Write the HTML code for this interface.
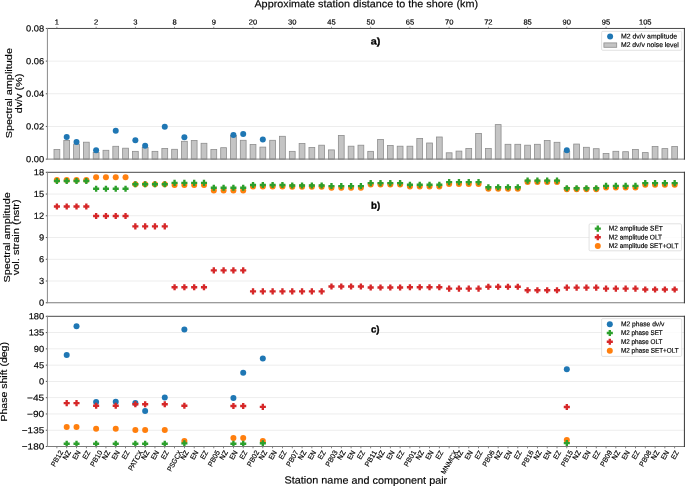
<!DOCTYPE html>
<html lang="en">
<head>
<meta charset="utf-8">
<title>M2 tidal analysis</title>
<style>
html,body{margin:0;padding:0;background:#fff;}
body{width:685px;height:486px;overflow:hidden;font-family:"Liberation Sans",sans-serif;}
svg{display:block;}
</style>
</head>
<body>
<svg width="685" height="486" viewBox="0 0 685 486" font-family='"Liberation Sans", sans-serif' fill="#000">
<rect width="685" height="486" fill="#fff"/>
<rect x="47.40" y="60.71" width="637.00" height="0.8" fill="#e9e9e9"/>
<rect x="47.40" y="93.38" width="637.00" height="0.8" fill="#e9e9e9"/>
<rect x="47.40" y="126.04" width="637.00" height="0.8" fill="#e9e9e9"/>
<rect x="54.00" y="149.40" width="5.8" height="9.70" fill="#c4c4c4" stroke="#8e8e8e" stroke-width="0.8"/>
<rect x="63.81" y="140.40" width="5.8" height="18.70" fill="#c4c4c4" stroke="#8e8e8e" stroke-width="0.8"/>
<rect x="73.61" y="144.20" width="5.8" height="14.90" fill="#c4c4c4" stroke="#8e8e8e" stroke-width="0.8"/>
<rect x="83.42" y="142.20" width="5.8" height="16.90" fill="#c4c4c4" stroke="#8e8e8e" stroke-width="0.8"/>
<rect x="93.22" y="152.40" width="5.8" height="6.70" fill="#c4c4c4" stroke="#8e8e8e" stroke-width="0.8"/>
<rect x="103.03" y="150.30" width="5.8" height="8.80" fill="#c4c4c4" stroke="#8e8e8e" stroke-width="0.8"/>
<rect x="112.84" y="146.30" width="5.8" height="12.80" fill="#c4c4c4" stroke="#8e8e8e" stroke-width="0.8"/>
<rect x="122.64" y="148.20" width="5.8" height="10.90" fill="#c4c4c4" stroke="#8e8e8e" stroke-width="0.8"/>
<rect x="132.45" y="151.35" width="5.8" height="7.75" fill="#c4c4c4" stroke="#8e8e8e" stroke-width="0.8"/>
<rect x="142.25" y="147.40" width="5.8" height="11.70" fill="#c4c4c4" stroke="#8e8e8e" stroke-width="0.8"/>
<rect x="152.06" y="151.35" width="5.8" height="7.75" fill="#c4c4c4" stroke="#8e8e8e" stroke-width="0.8"/>
<rect x="161.87" y="148.40" width="5.8" height="10.70" fill="#c4c4c4" stroke="#8e8e8e" stroke-width="0.8"/>
<rect x="171.67" y="149.30" width="5.8" height="9.80" fill="#c4c4c4" stroke="#8e8e8e" stroke-width="0.8"/>
<rect x="181.48" y="141.30" width="5.8" height="17.80" fill="#c4c4c4" stroke="#8e8e8e" stroke-width="0.8"/>
<rect x="191.28" y="140.40" width="5.8" height="18.70" fill="#c4c4c4" stroke="#8e8e8e" stroke-width="0.8"/>
<rect x="201.09" y="143.30" width="5.8" height="15.80" fill="#c4c4c4" stroke="#8e8e8e" stroke-width="0.8"/>
<rect x="210.90" y="149.50" width="5.8" height="9.60" fill="#c4c4c4" stroke="#8e8e8e" stroke-width="0.8"/>
<rect x="220.70" y="147.70" width="5.8" height="11.40" fill="#c4c4c4" stroke="#8e8e8e" stroke-width="0.8"/>
<rect x="230.51" y="135.40" width="5.8" height="23.70" fill="#c4c4c4" stroke="#8e8e8e" stroke-width="0.8"/>
<rect x="240.31" y="140.30" width="5.8" height="18.80" fill="#c4c4c4" stroke="#8e8e8e" stroke-width="0.8"/>
<rect x="250.12" y="144.50" width="5.8" height="14.60" fill="#c4c4c4" stroke="#8e8e8e" stroke-width="0.8"/>
<rect x="259.93" y="147.10" width="5.8" height="12.00" fill="#c4c4c4" stroke="#8e8e8e" stroke-width="0.8"/>
<rect x="269.73" y="140.30" width="5.8" height="18.80" fill="#c4c4c4" stroke="#8e8e8e" stroke-width="0.8"/>
<rect x="279.54" y="136.30" width="5.8" height="22.80" fill="#c4c4c4" stroke="#8e8e8e" stroke-width="0.8"/>
<rect x="289.34" y="151.35" width="5.8" height="7.75" fill="#c4c4c4" stroke="#8e8e8e" stroke-width="0.8"/>
<rect x="299.15" y="143.50" width="5.8" height="15.60" fill="#c4c4c4" stroke="#8e8e8e" stroke-width="0.8"/>
<rect x="308.96" y="147.40" width="5.8" height="11.70" fill="#c4c4c4" stroke="#8e8e8e" stroke-width="0.8"/>
<rect x="318.76" y="145.20" width="5.8" height="13.90" fill="#c4c4c4" stroke="#8e8e8e" stroke-width="0.8"/>
<rect x="328.57" y="149.90" width="5.8" height="9.20" fill="#c4c4c4" stroke="#8e8e8e" stroke-width="0.8"/>
<rect x="338.37" y="135.40" width="5.8" height="23.70" fill="#c4c4c4" stroke="#8e8e8e" stroke-width="0.8"/>
<rect x="348.18" y="146.20" width="5.8" height="12.90" fill="#c4c4c4" stroke="#8e8e8e" stroke-width="0.8"/>
<rect x="357.99" y="145.20" width="5.8" height="13.90" fill="#c4c4c4" stroke="#8e8e8e" stroke-width="0.8"/>
<rect x="367.79" y="151.35" width="5.8" height="7.75" fill="#c4c4c4" stroke="#8e8e8e" stroke-width="0.8"/>
<rect x="377.60" y="139.40" width="5.8" height="19.70" fill="#c4c4c4" stroke="#8e8e8e" stroke-width="0.8"/>
<rect x="387.40" y="145.40" width="5.8" height="13.70" fill="#c4c4c4" stroke="#8e8e8e" stroke-width="0.8"/>
<rect x="397.21" y="146.20" width="5.8" height="12.90" fill="#c4c4c4" stroke="#8e8e8e" stroke-width="0.8"/>
<rect x="407.02" y="146.20" width="5.8" height="12.90" fill="#c4c4c4" stroke="#8e8e8e" stroke-width="0.8"/>
<rect x="416.82" y="138.40" width="5.8" height="20.70" fill="#c4c4c4" stroke="#8e8e8e" stroke-width="0.8"/>
<rect x="426.63" y="143.00" width="5.8" height="16.10" fill="#c4c4c4" stroke="#8e8e8e" stroke-width="0.8"/>
<rect x="436.43" y="137.00" width="5.8" height="22.10" fill="#c4c4c4" stroke="#8e8e8e" stroke-width="0.8"/>
<rect x="446.24" y="152.80" width="5.8" height="6.30" fill="#c4c4c4" stroke="#8e8e8e" stroke-width="0.8"/>
<rect x="456.05" y="151.10" width="5.8" height="8.00" fill="#c4c4c4" stroke="#8e8e8e" stroke-width="0.8"/>
<rect x="465.85" y="148.40" width="5.8" height="10.70" fill="#c4c4c4" stroke="#8e8e8e" stroke-width="0.8"/>
<rect x="475.66" y="133.40" width="5.8" height="25.70" fill="#c4c4c4" stroke="#8e8e8e" stroke-width="0.8"/>
<rect x="485.46" y="148.40" width="5.8" height="10.70" fill="#c4c4c4" stroke="#8e8e8e" stroke-width="0.8"/>
<rect x="495.27" y="124.60" width="5.8" height="34.50" fill="#c4c4c4" stroke="#8e8e8e" stroke-width="0.8"/>
<rect x="505.08" y="144.30" width="5.8" height="14.80" fill="#c4c4c4" stroke="#8e8e8e" stroke-width="0.8"/>
<rect x="514.88" y="144.30" width="5.8" height="14.80" fill="#c4c4c4" stroke="#8e8e8e" stroke-width="0.8"/>
<rect x="524.69" y="145.20" width="5.8" height="13.90" fill="#c4c4c4" stroke="#8e8e8e" stroke-width="0.8"/>
<rect x="534.49" y="144.30" width="5.8" height="14.80" fill="#c4c4c4" stroke="#8e8e8e" stroke-width="0.8"/>
<rect x="544.30" y="140.50" width="5.8" height="18.60" fill="#c4c4c4" stroke="#8e8e8e" stroke-width="0.8"/>
<rect x="554.11" y="142.30" width="5.8" height="16.80" fill="#c4c4c4" stroke="#8e8e8e" stroke-width="0.8"/>
<rect x="563.91" y="151.50" width="5.8" height="7.60" fill="#c4c4c4" stroke="#8e8e8e" stroke-width="0.8"/>
<rect x="573.72" y="144.05" width="5.8" height="15.05" fill="#c4c4c4" stroke="#8e8e8e" stroke-width="0.8"/>
<rect x="583.52" y="147.30" width="5.8" height="11.80" fill="#c4c4c4" stroke="#8e8e8e" stroke-width="0.8"/>
<rect x="593.33" y="148.70" width="5.8" height="10.40" fill="#c4c4c4" stroke="#8e8e8e" stroke-width="0.8"/>
<rect x="603.14" y="153.50" width="5.8" height="5.60" fill="#c4c4c4" stroke="#8e8e8e" stroke-width="0.8"/>
<rect x="612.94" y="151.30" width="5.8" height="7.80" fill="#c4c4c4" stroke="#8e8e8e" stroke-width="0.8"/>
<rect x="622.75" y="151.70" width="5.8" height="7.40" fill="#c4c4c4" stroke="#8e8e8e" stroke-width="0.8"/>
<rect x="632.55" y="149.40" width="5.8" height="9.70" fill="#c4c4c4" stroke="#8e8e8e" stroke-width="0.8"/>
<rect x="642.36" y="152.60" width="5.8" height="6.50" fill="#c4c4c4" stroke="#8e8e8e" stroke-width="0.8"/>
<rect x="652.17" y="146.50" width="5.8" height="12.60" fill="#c4c4c4" stroke="#8e8e8e" stroke-width="0.8"/>
<rect x="661.97" y="148.60" width="5.8" height="10.50" fill="#c4c4c4" stroke="#8e8e8e" stroke-width="0.8"/>
<rect x="671.78" y="146.50" width="5.8" height="12.60" fill="#c4c4c4" stroke="#8e8e8e" stroke-width="0.8"/>
<circle cx="66.71" cy="136.90" r="3.0" fill="#1f77b4"/>
<circle cx="76.51" cy="142.10" r="3.0" fill="#1f77b4"/>
<circle cx="96.12" cy="150.20" r="3.0" fill="#1f77b4"/>
<circle cx="115.74" cy="130.85" r="3.0" fill="#1f77b4"/>
<circle cx="135.35" cy="140.20" r="3.0" fill="#1f77b4"/>
<circle cx="145.15" cy="145.65" r="3.0" fill="#1f77b4"/>
<circle cx="164.77" cy="126.70" r="3.0" fill="#1f77b4"/>
<circle cx="184.38" cy="137.30" r="3.0" fill="#1f77b4"/>
<circle cx="233.41" cy="135.00" r="3.0" fill="#1f77b4"/>
<circle cx="243.21" cy="134.00" r="3.0" fill="#1f77b4"/>
<circle cx="262.83" cy="139.50" r="3.0" fill="#1f77b4"/>
<circle cx="566.81" cy="150.30" r="3.0" fill="#1f77b4"/>
<rect x="46.90" y="27.95" width="638.00" height="1.0" fill="#4a4a4a"/>
<rect x="46.90" y="158.60" width="638.00" height="1.0" fill="#7c7c7c"/>
<rect x="46.90" y="27.95" width="1.0" height="131.65" fill="#8a8a8a"/>
<rect x="683.90" y="27.95" width="1.0" height="131.65" fill="#333333"/>
<rect x="45.80" y="27.95" width="1.20" height="1.0" fill="#555"/>
<rect x="45.80" y="60.61" width="1.20" height="1.0" fill="#555"/>
<rect x="45.80" y="93.28" width="1.20" height="1.0" fill="#555"/>
<rect x="45.80" y="125.94" width="1.20" height="1.0" fill="#555"/>
<rect x="45.80" y="158.60" width="1.20" height="1.0" fill="#555"/>
<rect x="56.50" y="26.75" width="0.8" height="1.30" fill="#777"/>
<rect x="95.72" y="26.75" width="0.8" height="1.30" fill="#777"/>
<rect x="134.95" y="26.75" width="0.8" height="1.30" fill="#777"/>
<rect x="174.17" y="26.75" width="0.8" height="1.30" fill="#777"/>
<rect x="213.40" y="26.75" width="0.8" height="1.30" fill="#777"/>
<rect x="252.62" y="26.75" width="0.8" height="1.30" fill="#777"/>
<rect x="291.84" y="26.75" width="0.8" height="1.30" fill="#777"/>
<rect x="331.07" y="26.75" width="0.8" height="1.30" fill="#777"/>
<rect x="370.29" y="26.75" width="0.8" height="1.30" fill="#777"/>
<rect x="409.52" y="26.75" width="0.8" height="1.30" fill="#777"/>
<rect x="448.74" y="26.75" width="0.8" height="1.30" fill="#777"/>
<rect x="487.96" y="26.75" width="0.8" height="1.30" fill="#777"/>
<rect x="527.19" y="26.75" width="0.8" height="1.30" fill="#777"/>
<rect x="566.41" y="26.75" width="0.8" height="1.30" fill="#777"/>
<rect x="605.64" y="26.75" width="0.8" height="1.30" fill="#777"/>
<rect x="644.86" y="26.75" width="0.8" height="1.30" fill="#777"/>
<rect x="601.6" y="31.3" width="80.10" height="19.00" rx="1.2" ry="1.2" fill="#ffffff" fill-opacity="0.8" stroke="#d6d6d6" stroke-width="0.7"/>
<circle cx="610.10" cy="36.60" r="3.0" fill="#1f77b4"/>
<rect x="603.9" y="42.9" width="12.8" height="4.4" fill="#c4c4c4" stroke="#8e8e8e" stroke-width="0.8"/>
<rect x="47.40" y="193.64" width="637.00" height="0.8" fill="#e9e9e9"/>
<rect x="47.40" y="215.38" width="637.00" height="0.8" fill="#e9e9e9"/>
<rect x="47.40" y="237.12" width="637.00" height="0.8" fill="#e9e9e9"/>
<rect x="47.40" y="258.87" width="637.00" height="0.8" fill="#e9e9e9"/>
<rect x="47.40" y="280.61" width="637.00" height="0.8" fill="#e9e9e9"/>
<circle cx="56.90" cy="179.90" r="3.0" fill="#ff7f0e"/>
<circle cx="66.71" cy="179.90" r="3.0" fill="#ff7f0e"/>
<circle cx="76.51" cy="179.90" r="3.0" fill="#ff7f0e"/>
<circle cx="86.32" cy="179.90" r="3.0" fill="#ff7f0e"/>
<circle cx="96.12" cy="177.30" r="3.0" fill="#ff7f0e"/>
<circle cx="105.93" cy="177.30" r="3.0" fill="#ff7f0e"/>
<circle cx="115.74" cy="177.30" r="3.0" fill="#ff7f0e"/>
<circle cx="125.54" cy="177.30" r="3.0" fill="#ff7f0e"/>
<circle cx="135.35" cy="184.20" r="3.0" fill="#ff7f0e"/>
<circle cx="145.15" cy="184.20" r="3.0" fill="#ff7f0e"/>
<circle cx="154.96" cy="184.20" r="3.0" fill="#ff7f0e"/>
<circle cx="164.77" cy="184.20" r="3.0" fill="#ff7f0e"/>
<circle cx="174.57" cy="185.00" r="3.0" fill="#ff7f0e"/>
<circle cx="184.38" cy="185.00" r="3.0" fill="#ff7f0e"/>
<circle cx="194.18" cy="185.00" r="3.0" fill="#ff7f0e"/>
<circle cx="203.99" cy="185.00" r="3.0" fill="#ff7f0e"/>
<circle cx="213.80" cy="190.40" r="3.0" fill="#ff7f0e"/>
<circle cx="223.60" cy="190.40" r="3.0" fill="#ff7f0e"/>
<circle cx="233.41" cy="190.40" r="3.0" fill="#ff7f0e"/>
<circle cx="243.21" cy="190.40" r="3.0" fill="#ff7f0e"/>
<circle cx="253.02" cy="186.50" r="3.0" fill="#ff7f0e"/>
<circle cx="262.83" cy="186.50" r="3.0" fill="#ff7f0e"/>
<circle cx="272.63" cy="186.50" r="3.0" fill="#ff7f0e"/>
<circle cx="282.44" cy="186.50" r="3.0" fill="#ff7f0e"/>
<circle cx="292.24" cy="186.80" r="3.0" fill="#ff7f0e"/>
<circle cx="302.05" cy="186.80" r="3.0" fill="#ff7f0e"/>
<circle cx="311.86" cy="186.80" r="3.0" fill="#ff7f0e"/>
<circle cx="321.66" cy="186.80" r="3.0" fill="#ff7f0e"/>
<circle cx="331.47" cy="187.80" r="3.0" fill="#ff7f0e"/>
<circle cx="341.27" cy="187.80" r="3.0" fill="#ff7f0e"/>
<circle cx="351.08" cy="187.80" r="3.0" fill="#ff7f0e"/>
<circle cx="360.89" cy="187.80" r="3.0" fill="#ff7f0e"/>
<circle cx="370.69" cy="184.60" r="3.0" fill="#ff7f0e"/>
<circle cx="380.50" cy="184.60" r="3.0" fill="#ff7f0e"/>
<circle cx="390.30" cy="184.60" r="3.0" fill="#ff7f0e"/>
<circle cx="400.11" cy="184.60" r="3.0" fill="#ff7f0e"/>
<circle cx="409.92" cy="186.40" r="3.0" fill="#ff7f0e"/>
<circle cx="419.72" cy="186.40" r="3.0" fill="#ff7f0e"/>
<circle cx="429.53" cy="186.40" r="3.0" fill="#ff7f0e"/>
<circle cx="439.33" cy="186.40" r="3.0" fill="#ff7f0e"/>
<circle cx="449.14" cy="183.90" r="3.0" fill="#ff7f0e"/>
<circle cx="458.95" cy="183.90" r="3.0" fill="#ff7f0e"/>
<circle cx="468.75" cy="183.90" r="3.0" fill="#ff7f0e"/>
<circle cx="478.56" cy="183.90" r="3.0" fill="#ff7f0e"/>
<circle cx="488.36" cy="188.70" r="3.0" fill="#ff7f0e"/>
<circle cx="498.17" cy="188.70" r="3.0" fill="#ff7f0e"/>
<circle cx="507.98" cy="188.70" r="3.0" fill="#ff7f0e"/>
<circle cx="517.78" cy="188.70" r="3.0" fill="#ff7f0e"/>
<circle cx="527.59" cy="182.00" r="3.0" fill="#ff7f0e"/>
<circle cx="537.39" cy="182.00" r="3.0" fill="#ff7f0e"/>
<circle cx="547.20" cy="182.00" r="3.0" fill="#ff7f0e"/>
<circle cx="557.01" cy="182.00" r="3.0" fill="#ff7f0e"/>
<circle cx="566.81" cy="189.30" r="3.0" fill="#ff7f0e"/>
<circle cx="576.62" cy="189.30" r="3.0" fill="#ff7f0e"/>
<circle cx="586.42" cy="189.30" r="3.0" fill="#ff7f0e"/>
<circle cx="596.23" cy="189.30" r="3.0" fill="#ff7f0e"/>
<circle cx="606.04" cy="187.40" r="3.0" fill="#ff7f0e"/>
<circle cx="615.84" cy="187.40" r="3.0" fill="#ff7f0e"/>
<circle cx="625.65" cy="187.40" r="3.0" fill="#ff7f0e"/>
<circle cx="635.45" cy="187.40" r="3.0" fill="#ff7f0e"/>
<circle cx="645.26" cy="184.70" r="3.0" fill="#ff7f0e"/>
<circle cx="655.07" cy="184.70" r="3.0" fill="#ff7f0e"/>
<circle cx="664.87" cy="184.70" r="3.0" fill="#ff7f0e"/>
<circle cx="674.68" cy="184.70" r="3.0" fill="#ff7f0e"/>
<polygon points="55.73,177.95 58.07,177.95 58.07,179.82 59.95,179.82 59.95,182.18 58.07,182.18 58.07,184.05 55.73,184.05 55.73,182.18 53.85,182.18 53.85,179.82 55.73,179.82" fill="#2ca02c"/>
<polygon points="55.73,203.45 58.07,203.45 58.07,205.32 59.95,205.32 59.95,207.68 58.07,207.68 58.07,209.55 55.73,209.55 55.73,207.68 53.85,207.68 53.85,205.32 55.73,205.32" fill="#d62728"/>
<polygon points="65.53,177.95 67.88,177.95 67.88,179.82 69.76,179.82 69.76,182.18 67.88,182.18 67.88,184.05 65.53,184.05 65.53,182.18 63.66,182.18 63.66,179.82 65.53,179.82" fill="#2ca02c"/>
<polygon points="65.53,203.45 67.88,203.45 67.88,205.32 69.76,205.32 69.76,207.68 67.88,207.68 67.88,209.55 65.53,209.55 65.53,207.68 63.66,207.68 63.66,205.32 65.53,205.32" fill="#d62728"/>
<polygon points="75.34,177.95 77.69,177.95 77.69,179.82 79.56,179.82 79.56,182.18 77.69,182.18 77.69,184.05 75.34,184.05 75.34,182.18 73.46,182.18 73.46,179.82 75.34,179.82" fill="#2ca02c"/>
<polygon points="75.34,203.45 77.69,203.45 77.69,205.32 79.56,205.32 79.56,207.68 77.69,207.68 77.69,209.55 75.34,209.55 75.34,207.68 73.46,207.68 73.46,205.32 75.34,205.32" fill="#d62728"/>
<polygon points="85.14,177.95 87.49,177.95 87.49,179.82 89.37,179.82 89.37,182.18 87.49,182.18 87.49,184.05 85.14,184.05 85.14,182.18 83.27,182.18 83.27,179.82 85.14,179.82" fill="#2ca02c"/>
<polygon points="85.14,203.45 87.49,203.45 87.49,205.32 89.37,205.32 89.37,207.68 87.49,207.68 87.49,209.55 85.14,209.55 85.14,207.68 83.27,207.68 83.27,205.32 85.14,205.32" fill="#d62728"/>
<polygon points="94.95,185.65 97.30,185.65 97.30,187.52 99.17,187.52 99.17,189.88 97.30,189.88 97.30,191.75 94.95,191.75 94.95,189.88 93.07,189.88 93.07,187.52 94.95,187.52" fill="#2ca02c"/>
<polygon points="94.95,212.95 97.30,212.95 97.30,214.82 99.17,214.82 99.17,217.18 97.30,217.18 97.30,219.05 94.95,219.05 94.95,217.18 93.07,217.18 93.07,214.82 94.95,214.82" fill="#d62728"/>
<polygon points="104.75,185.65 107.10,185.65 107.10,187.52 108.98,187.52 108.98,189.88 107.10,189.88 107.10,191.75 104.75,191.75 104.75,189.88 102.88,189.88 102.88,187.52 104.75,187.52" fill="#2ca02c"/>
<polygon points="104.75,212.95 107.10,212.95 107.10,214.82 108.98,214.82 108.98,217.18 107.10,217.18 107.10,219.05 104.75,219.05 104.75,217.18 102.88,217.18 102.88,214.82 104.75,214.82" fill="#d62728"/>
<polygon points="114.56,185.65 116.91,185.65 116.91,187.52 118.79,187.52 118.79,189.88 116.91,189.88 116.91,191.75 114.56,191.75 114.56,189.88 112.69,189.88 112.69,187.52 114.56,187.52" fill="#2ca02c"/>
<polygon points="114.56,212.95 116.91,212.95 116.91,214.82 118.79,214.82 118.79,217.18 116.91,217.18 116.91,219.05 114.56,219.05 114.56,217.18 112.69,217.18 112.69,214.82 114.56,214.82" fill="#d62728"/>
<polygon points="124.37,185.65 126.72,185.65 126.72,187.52 128.59,187.52 128.59,189.88 126.72,189.88 126.72,191.75 124.37,191.75 124.37,189.88 122.49,189.88 122.49,187.52 124.37,187.52" fill="#2ca02c"/>
<polygon points="124.37,212.95 126.72,212.95 126.72,214.82 128.59,214.82 128.59,217.18 126.72,217.18 126.72,219.05 124.37,219.05 124.37,217.18 122.49,217.18 122.49,214.82 124.37,214.82" fill="#d62728"/>
<polygon points="134.17,181.15 136.52,181.15 136.52,183.02 138.40,183.02 138.40,185.38 136.52,185.38 136.52,187.25 134.17,187.25 134.17,185.38 132.30,185.38 132.30,183.02 134.17,183.02" fill="#2ca02c"/>
<polygon points="134.17,223.35 136.52,223.35 136.52,225.22 138.40,225.22 138.40,227.58 136.52,227.58 136.52,229.45 134.17,229.45 134.17,227.58 132.30,227.58 132.30,225.22 134.17,225.22" fill="#d62728"/>
<polygon points="143.98,181.15 146.33,181.15 146.33,183.02 148.20,183.02 148.20,185.38 146.33,185.38 146.33,187.25 143.98,187.25 143.98,185.38 142.10,185.38 142.10,183.02 143.98,183.02" fill="#2ca02c"/>
<polygon points="143.98,223.35 146.33,223.35 146.33,225.22 148.20,225.22 148.20,227.58 146.33,227.58 146.33,229.45 143.98,229.45 143.98,227.58 142.10,227.58 142.10,225.22 143.98,225.22" fill="#d62728"/>
<polygon points="153.78,181.15 156.13,181.15 156.13,183.02 158.01,183.02 158.01,185.38 156.13,185.38 156.13,187.25 153.78,187.25 153.78,185.38 151.91,185.38 151.91,183.02 153.78,183.02" fill="#2ca02c"/>
<polygon points="153.78,223.35 156.13,223.35 156.13,225.22 158.01,225.22 158.01,227.58 156.13,227.58 156.13,229.45 153.78,229.45 153.78,227.58 151.91,227.58 151.91,225.22 153.78,225.22" fill="#d62728"/>
<polygon points="163.59,181.15 165.94,181.15 165.94,183.02 167.82,183.02 167.82,185.38 165.94,185.38 165.94,187.25 163.59,187.25 163.59,185.38 161.72,185.38 161.72,183.02 163.59,183.02" fill="#2ca02c"/>
<polygon points="163.59,223.35 165.94,223.35 165.94,225.22 167.82,225.22 167.82,227.58 165.94,227.58 165.94,229.45 163.59,229.45 163.59,227.58 161.72,227.58 161.72,225.22 163.59,225.22" fill="#d62728"/>
<polygon points="173.40,179.80 175.75,179.80 175.75,181.67 177.62,181.67 177.62,184.03 175.75,184.03 175.75,185.90 173.40,185.90 173.40,184.03 171.52,184.03 171.52,181.67 173.40,181.67" fill="#2ca02c"/>
<polygon points="173.40,284.25 175.75,284.25 175.75,286.12 177.62,286.12 177.62,288.48 175.75,288.48 175.75,290.35 173.40,290.35 173.40,288.48 171.52,288.48 171.52,286.12 173.40,286.12" fill="#d62728"/>
<polygon points="183.20,179.80 185.55,179.80 185.55,181.67 187.43,181.67 187.43,184.03 185.55,184.03 185.55,185.90 183.20,185.90 183.20,184.03 181.33,184.03 181.33,181.67 183.20,181.67" fill="#2ca02c"/>
<polygon points="183.20,284.25 185.55,284.25 185.55,286.12 187.43,286.12 187.43,288.48 185.55,288.48 185.55,290.35 183.20,290.35 183.20,288.48 181.33,288.48 181.33,286.12 183.20,286.12" fill="#d62728"/>
<polygon points="193.01,179.80 195.36,179.80 195.36,181.67 197.23,181.67 197.23,184.03 195.36,184.03 195.36,185.90 193.01,185.90 193.01,184.03 191.13,184.03 191.13,181.67 193.01,181.67" fill="#2ca02c"/>
<polygon points="193.01,284.25 195.36,284.25 195.36,286.12 197.23,286.12 197.23,288.48 195.36,288.48 195.36,290.35 193.01,290.35 193.01,288.48 191.13,288.48 191.13,286.12 193.01,286.12" fill="#d62728"/>
<polygon points="202.81,179.80 205.16,179.80 205.16,181.67 207.04,181.67 207.04,184.03 205.16,184.03 205.16,185.90 202.81,185.90 202.81,184.03 200.94,184.03 200.94,181.67 202.81,181.67" fill="#2ca02c"/>
<polygon points="202.81,284.25 205.16,284.25 205.16,286.12 207.04,286.12 207.04,288.48 205.16,288.48 205.16,290.35 202.81,290.35 202.81,288.48 200.94,288.48 200.94,286.12 202.81,286.12" fill="#d62728"/>
<polygon points="212.62,184.75 214.97,184.75 214.97,186.62 216.85,186.62 216.85,188.98 214.97,188.98 214.97,190.85 212.62,190.85 212.62,188.98 210.75,188.98 210.75,186.62 212.62,186.62" fill="#2ca02c"/>
<polygon points="212.62,267.35 214.97,267.35 214.97,269.22 216.85,269.22 216.85,271.57 214.97,271.57 214.97,273.45 212.62,273.45 212.62,271.57 210.75,271.57 210.75,269.22 212.62,269.22" fill="#d62728"/>
<polygon points="222.43,184.75 224.78,184.75 224.78,186.62 226.65,186.62 226.65,188.98 224.78,188.98 224.78,190.85 222.43,190.85 222.43,188.98 220.55,188.98 220.55,186.62 222.43,186.62" fill="#2ca02c"/>
<polygon points="222.43,267.35 224.78,267.35 224.78,269.22 226.65,269.22 226.65,271.57 224.78,271.57 224.78,273.45 222.43,273.45 222.43,271.57 220.55,271.57 220.55,269.22 222.43,269.22" fill="#d62728"/>
<polygon points="232.23,184.75 234.58,184.75 234.58,186.62 236.46,186.62 236.46,188.98 234.58,188.98 234.58,190.85 232.23,190.85 232.23,188.98 230.36,188.98 230.36,186.62 232.23,186.62" fill="#2ca02c"/>
<polygon points="232.23,267.35 234.58,267.35 234.58,269.22 236.46,269.22 236.46,271.57 234.58,271.57 234.58,273.45 232.23,273.45 232.23,271.57 230.36,271.57 230.36,269.22 232.23,269.22" fill="#d62728"/>
<polygon points="242.04,184.75 244.39,184.75 244.39,186.62 246.26,186.62 246.26,188.98 244.39,188.98 244.39,190.85 242.04,190.85 242.04,188.98 240.16,188.98 240.16,186.62 242.04,186.62" fill="#2ca02c"/>
<polygon points="242.04,267.35 244.39,267.35 244.39,269.22 246.26,269.22 246.26,271.57 244.39,271.57 244.39,273.45 242.04,273.45 242.04,271.57 240.16,271.57 240.16,269.22 242.04,269.22" fill="#d62728"/>
<polygon points="251.84,181.95 254.19,181.95 254.19,183.82 256.07,183.82 256.07,186.18 254.19,186.18 254.19,188.05 251.84,188.05 251.84,186.18 249.97,186.18 249.97,183.82 251.84,183.82" fill="#2ca02c"/>
<polygon points="251.84,288.35 254.19,288.35 254.19,290.22 256.07,290.22 256.07,292.57 254.19,292.57 254.19,294.45 251.84,294.45 251.84,292.57 249.97,292.57 249.97,290.22 251.84,290.22" fill="#d62728"/>
<polygon points="261.65,181.95 264.00,181.95 264.00,183.82 265.88,183.82 265.88,186.18 264.00,186.18 264.00,188.05 261.65,188.05 261.65,186.18 259.78,186.18 259.78,183.82 261.65,183.82" fill="#2ca02c"/>
<polygon points="261.65,288.35 264.00,288.35 264.00,290.22 265.88,290.22 265.88,292.57 264.00,292.57 264.00,294.45 261.65,294.45 261.65,292.57 259.78,292.57 259.78,290.22 261.65,290.22" fill="#d62728"/>
<polygon points="271.46,181.95 273.81,181.95 273.81,183.82 275.68,183.82 275.68,186.18 273.81,186.18 273.81,188.05 271.46,188.05 271.46,186.18 269.58,186.18 269.58,183.82 271.46,183.82" fill="#2ca02c"/>
<polygon points="271.46,288.35 273.81,288.35 273.81,290.22 275.68,290.22 275.68,292.57 273.81,292.57 273.81,294.45 271.46,294.45 271.46,292.57 269.58,292.57 269.58,290.22 271.46,290.22" fill="#d62728"/>
<polygon points="281.26,181.95 283.61,181.95 283.61,183.82 285.49,183.82 285.49,186.18 283.61,186.18 283.61,188.05 281.26,188.05 281.26,186.18 279.39,186.18 279.39,183.82 281.26,183.82" fill="#2ca02c"/>
<polygon points="281.26,288.35 283.61,288.35 283.61,290.22 285.49,290.22 285.49,292.57 283.61,292.57 283.61,294.45 281.26,294.45 281.26,292.57 279.39,292.57 279.39,290.22 281.26,290.22" fill="#d62728"/>
<polygon points="291.07,182.45 293.42,182.45 293.42,184.32 295.29,184.32 295.29,186.68 293.42,186.68 293.42,188.55 291.07,188.55 291.07,186.68 289.19,186.68 289.19,184.32 291.07,184.32" fill="#2ca02c"/>
<polygon points="291.07,288.35 293.42,288.35 293.42,290.22 295.29,290.22 295.29,292.57 293.42,292.57 293.42,294.45 291.07,294.45 291.07,292.57 289.19,292.57 289.19,290.22 291.07,290.22" fill="#d62728"/>
<polygon points="300.87,182.45 303.22,182.45 303.22,184.32 305.10,184.32 305.10,186.68 303.22,186.68 303.22,188.55 300.87,188.55 300.87,186.68 299.00,186.68 299.00,184.32 300.87,184.32" fill="#2ca02c"/>
<polygon points="300.87,288.35 303.22,288.35 303.22,290.22 305.10,290.22 305.10,292.57 303.22,292.57 303.22,294.45 300.87,294.45 300.87,292.57 299.00,292.57 299.00,290.22 300.87,290.22" fill="#d62728"/>
<polygon points="310.68,182.45 313.03,182.45 313.03,184.32 314.91,184.32 314.91,186.68 313.03,186.68 313.03,188.55 310.68,188.55 310.68,186.68 308.81,186.68 308.81,184.32 310.68,184.32" fill="#2ca02c"/>
<polygon points="310.68,288.35 313.03,288.35 313.03,290.22 314.91,290.22 314.91,292.57 313.03,292.57 313.03,294.45 310.68,294.45 310.68,292.57 308.81,292.57 308.81,290.22 310.68,290.22" fill="#d62728"/>
<polygon points="320.49,182.45 322.84,182.45 322.84,184.32 324.71,184.32 324.71,186.68 322.84,186.68 322.84,188.55 320.49,188.55 320.49,186.68 318.61,186.68 318.61,184.32 320.49,184.32" fill="#2ca02c"/>
<polygon points="320.49,288.35 322.84,288.35 322.84,290.22 324.71,290.22 324.71,292.57 322.84,292.57 322.84,294.45 320.49,294.45 320.49,292.57 318.61,292.57 318.61,290.22 320.49,290.22" fill="#d62728"/>
<polygon points="330.29,183.00 332.64,183.00 332.64,184.88 334.52,184.88 334.52,187.23 332.64,187.23 332.64,189.10 330.29,189.10 330.29,187.23 328.42,187.23 328.42,184.88 330.29,184.88" fill="#2ca02c"/>
<polygon points="330.29,283.45 332.64,283.45 332.64,285.32 334.52,285.32 334.52,287.68 332.64,287.68 332.64,289.55 330.29,289.55 330.29,287.68 328.42,287.68 328.42,285.32 330.29,285.32" fill="#d62728"/>
<polygon points="340.10,183.00 342.45,183.00 342.45,184.88 344.32,184.88 344.32,187.23 342.45,187.23 342.45,189.10 340.10,189.10 340.10,187.23 338.22,187.23 338.22,184.88 340.10,184.88" fill="#2ca02c"/>
<polygon points="340.10,283.45 342.45,283.45 342.45,285.32 344.32,285.32 344.32,287.68 342.45,287.68 342.45,289.55 340.10,289.55 340.10,287.68 338.22,287.68 338.22,285.32 340.10,285.32" fill="#d62728"/>
<polygon points="349.90,183.00 352.25,183.00 352.25,184.88 354.13,184.88 354.13,187.23 352.25,187.23 352.25,189.10 349.90,189.10 349.90,187.23 348.03,187.23 348.03,184.88 349.90,184.88" fill="#2ca02c"/>
<polygon points="349.90,283.45 352.25,283.45 352.25,285.32 354.13,285.32 354.13,287.68 352.25,287.68 352.25,289.55 349.90,289.55 349.90,287.68 348.03,287.68 348.03,285.32 349.90,285.32" fill="#d62728"/>
<polygon points="359.71,183.00 362.06,183.00 362.06,184.88 363.94,184.88 363.94,187.23 362.06,187.23 362.06,189.10 359.71,189.10 359.71,187.23 357.84,187.23 357.84,184.88 359.71,184.88" fill="#2ca02c"/>
<polygon points="359.71,283.45 362.06,283.45 362.06,285.32 363.94,285.32 363.94,287.68 362.06,287.68 362.06,289.55 359.71,289.55 359.71,287.68 357.84,287.68 357.84,285.32 359.71,285.32" fill="#d62728"/>
<polygon points="369.52,180.05 371.87,180.05 371.87,181.92 373.74,181.92 373.74,184.28 371.87,184.28 371.87,186.15 369.52,186.15 369.52,184.28 367.64,184.28 367.64,181.92 369.52,181.92" fill="#2ca02c"/>
<polygon points="369.52,284.45 371.87,284.45 371.87,286.32 373.74,286.32 373.74,288.68 371.87,288.68 371.87,290.55 369.52,290.55 369.52,288.68 367.64,288.68 367.64,286.32 369.52,286.32" fill="#d62728"/>
<polygon points="379.32,180.05 381.67,180.05 381.67,181.92 383.55,181.92 383.55,184.28 381.67,184.28 381.67,186.15 379.32,186.15 379.32,184.28 377.45,184.28 377.45,181.92 379.32,181.92" fill="#2ca02c"/>
<polygon points="379.32,284.45 381.67,284.45 381.67,286.32 383.55,286.32 383.55,288.68 381.67,288.68 381.67,290.55 379.32,290.55 379.32,288.68 377.45,288.68 377.45,286.32 379.32,286.32" fill="#d62728"/>
<polygon points="389.13,180.05 391.48,180.05 391.48,181.92 393.35,181.92 393.35,184.28 391.48,184.28 391.48,186.15 389.13,186.15 389.13,184.28 387.25,184.28 387.25,181.92 389.13,181.92" fill="#2ca02c"/>
<polygon points="389.13,284.45 391.48,284.45 391.48,286.32 393.35,286.32 393.35,288.68 391.48,288.68 391.48,290.55 389.13,290.55 389.13,288.68 387.25,288.68 387.25,286.32 389.13,286.32" fill="#d62728"/>
<polygon points="398.93,180.05 401.28,180.05 401.28,181.92 403.16,181.92 403.16,184.28 401.28,184.28 401.28,186.15 398.93,186.15 398.93,184.28 397.06,184.28 397.06,181.92 398.93,181.92" fill="#2ca02c"/>
<polygon points="398.93,284.45 401.28,284.45 401.28,286.32 403.16,286.32 403.16,288.68 401.28,288.68 401.28,290.55 398.93,290.55 398.93,288.68 397.06,288.68 397.06,286.32 398.93,286.32" fill="#d62728"/>
<polygon points="408.74,181.75 411.09,181.75 411.09,183.62 412.97,183.62 412.97,185.98 411.09,185.98 411.09,187.85 408.74,187.85 408.74,185.98 406.87,185.98 406.87,183.62 408.74,183.62" fill="#2ca02c"/>
<polygon points="408.74,284.15 411.09,284.15 411.09,286.02 412.97,286.02 412.97,288.38 411.09,288.38 411.09,290.25 408.74,290.25 408.74,288.38 406.87,288.38 406.87,286.02 408.74,286.02" fill="#d62728"/>
<polygon points="418.55,181.75 420.90,181.75 420.90,183.62 422.77,183.62 422.77,185.98 420.90,185.98 420.90,187.85 418.55,187.85 418.55,185.98 416.67,185.98 416.67,183.62 418.55,183.62" fill="#2ca02c"/>
<polygon points="418.55,284.15 420.90,284.15 420.90,286.02 422.77,286.02 422.77,288.38 420.90,288.38 420.90,290.25 418.55,290.25 418.55,288.38 416.67,288.38 416.67,286.02 418.55,286.02" fill="#d62728"/>
<polygon points="428.35,181.75 430.70,181.75 430.70,183.62 432.58,183.62 432.58,185.98 430.70,185.98 430.70,187.85 428.35,187.85 428.35,185.98 426.48,185.98 426.48,183.62 428.35,183.62" fill="#2ca02c"/>
<polygon points="428.35,284.15 430.70,284.15 430.70,286.02 432.58,286.02 432.58,288.38 430.70,288.38 430.70,290.25 428.35,290.25 428.35,288.38 426.48,288.38 426.48,286.02 428.35,286.02" fill="#d62728"/>
<polygon points="438.16,181.75 440.51,181.75 440.51,183.62 442.38,183.62 442.38,185.98 440.51,185.98 440.51,187.85 438.16,187.85 438.16,185.98 436.28,185.98 436.28,183.62 438.16,183.62" fill="#2ca02c"/>
<polygon points="438.16,284.15 440.51,284.15 440.51,286.02 442.38,286.02 442.38,288.38 440.51,288.38 440.51,290.25 438.16,290.25 438.16,288.38 436.28,288.38 436.28,286.02 438.16,286.02" fill="#d62728"/>
<polygon points="447.96,179.05 450.31,179.05 450.31,180.92 452.19,180.92 452.19,183.28 450.31,183.28 450.31,185.15 447.96,185.15 447.96,183.28 446.09,183.28 446.09,180.92 447.96,180.92" fill="#2ca02c"/>
<polygon points="447.96,285.55 450.31,285.55 450.31,287.43 452.19,287.43 452.19,289.78 450.31,289.78 450.31,291.65 447.96,291.65 447.96,289.78 446.09,289.78 446.09,287.43 447.96,287.43" fill="#d62728"/>
<polygon points="457.77,179.05 460.12,179.05 460.12,180.92 462.00,180.92 462.00,183.28 460.12,183.28 460.12,185.15 457.77,185.15 457.77,183.28 455.90,183.28 455.90,180.92 457.77,180.92" fill="#2ca02c"/>
<polygon points="457.77,285.55 460.12,285.55 460.12,287.43 462.00,287.43 462.00,289.78 460.12,289.78 460.12,291.65 457.77,291.65 457.77,289.78 455.90,289.78 455.90,287.43 457.77,287.43" fill="#d62728"/>
<polygon points="467.58,179.05 469.93,179.05 469.93,180.92 471.80,180.92 471.80,183.28 469.93,183.28 469.93,185.15 467.58,185.15 467.58,183.28 465.70,183.28 465.70,180.92 467.58,180.92" fill="#2ca02c"/>
<polygon points="467.58,285.55 469.93,285.55 469.93,287.43 471.80,287.43 471.80,289.78 469.93,289.78 469.93,291.65 467.58,291.65 467.58,289.78 465.70,289.78 465.70,287.43 467.58,287.43" fill="#d62728"/>
<polygon points="477.38,179.05 479.73,179.05 479.73,180.92 481.61,180.92 481.61,183.28 479.73,183.28 479.73,185.15 477.38,185.15 477.38,183.28 475.51,183.28 475.51,180.92 477.38,180.92" fill="#2ca02c"/>
<polygon points="477.38,285.55 479.73,285.55 479.73,287.43 481.61,287.43 481.61,289.78 479.73,289.78 479.73,291.65 477.38,291.65 477.38,289.78 475.51,289.78 475.51,287.43 477.38,287.43" fill="#d62728"/>
<polygon points="487.19,184.25 489.54,184.25 489.54,186.12 491.41,186.12 491.41,188.48 489.54,188.48 489.54,190.35 487.19,190.35 487.19,188.48 485.31,188.48 485.31,186.12 487.19,186.12" fill="#2ca02c"/>
<polygon points="487.19,283.65 489.54,283.65 489.54,285.52 491.41,285.52 491.41,287.88 489.54,287.88 489.54,289.75 487.19,289.75 487.19,287.88 485.31,287.88 485.31,285.52 487.19,285.52" fill="#d62728"/>
<polygon points="496.99,184.25 499.34,184.25 499.34,186.12 501.22,186.12 501.22,188.48 499.34,188.48 499.34,190.35 496.99,190.35 496.99,188.48 495.12,188.48 495.12,186.12 496.99,186.12" fill="#2ca02c"/>
<polygon points="496.99,283.65 499.34,283.65 499.34,285.52 501.22,285.52 501.22,287.88 499.34,287.88 499.34,289.75 496.99,289.75 496.99,287.88 495.12,287.88 495.12,285.52 496.99,285.52" fill="#d62728"/>
<polygon points="506.80,184.25 509.15,184.25 509.15,186.12 511.03,186.12 511.03,188.48 509.15,188.48 509.15,190.35 506.80,190.35 506.80,188.48 504.93,188.48 504.93,186.12 506.80,186.12" fill="#2ca02c"/>
<polygon points="506.80,283.65 509.15,283.65 509.15,285.52 511.03,285.52 511.03,287.88 509.15,287.88 509.15,289.75 506.80,289.75 506.80,287.88 504.93,287.88 504.93,285.52 506.80,285.52" fill="#d62728"/>
<polygon points="516.61,184.25 518.96,184.25 518.96,186.12 520.83,186.12 520.83,188.48 518.96,188.48 518.96,190.35 516.61,190.35 516.61,188.48 514.73,188.48 514.73,186.12 516.61,186.12" fill="#2ca02c"/>
<polygon points="516.61,283.65 518.96,283.65 518.96,285.52 520.83,285.52 520.83,287.88 518.96,287.88 518.96,289.75 516.61,289.75 516.61,287.88 514.73,287.88 514.73,285.52 516.61,285.52" fill="#d62728"/>
<polygon points="526.41,177.60 528.76,177.60 528.76,179.47 530.64,179.47 530.64,181.83 528.76,181.83 528.76,183.70 526.41,183.70 526.41,181.83 524.54,181.83 524.54,179.47 526.41,179.47" fill="#2ca02c"/>
<polygon points="526.41,287.25 528.76,287.25 528.76,289.12 530.64,289.12 530.64,291.48 528.76,291.48 528.76,293.35 526.41,293.35 526.41,291.48 524.54,291.48 524.54,289.12 526.41,289.12" fill="#d62728"/>
<polygon points="536.22,177.60 538.57,177.60 538.57,179.47 540.44,179.47 540.44,181.83 538.57,181.83 538.57,183.70 536.22,183.70 536.22,181.83 534.34,181.83 534.34,179.47 536.22,179.47" fill="#2ca02c"/>
<polygon points="536.22,287.25 538.57,287.25 538.57,289.12 540.44,289.12 540.44,291.48 538.57,291.48 538.57,293.35 536.22,293.35 536.22,291.48 534.34,291.48 534.34,289.12 536.22,289.12" fill="#d62728"/>
<polygon points="546.02,177.60 548.37,177.60 548.37,179.47 550.25,179.47 550.25,181.83 548.37,181.83 548.37,183.70 546.02,183.70 546.02,181.83 544.15,181.83 544.15,179.47 546.02,179.47" fill="#2ca02c"/>
<polygon points="546.02,287.25 548.37,287.25 548.37,289.12 550.25,289.12 550.25,291.48 548.37,291.48 548.37,293.35 546.02,293.35 546.02,291.48 544.15,291.48 544.15,289.12 546.02,289.12" fill="#d62728"/>
<polygon points="555.83,177.60 558.18,177.60 558.18,179.47 560.06,179.47 560.06,181.83 558.18,181.83 558.18,183.70 555.83,183.70 555.83,181.83 553.96,181.83 553.96,179.47 555.83,179.47" fill="#2ca02c"/>
<polygon points="555.83,287.25 558.18,287.25 558.18,289.12 560.06,289.12 560.06,291.48 558.18,291.48 558.18,293.35 555.83,293.35 555.83,291.48 553.96,291.48 553.96,289.12 555.83,289.12" fill="#d62728"/>
<polygon points="565.64,185.15 567.99,185.15 567.99,187.02 569.86,187.02 569.86,189.38 567.99,189.38 567.99,191.25 565.64,191.25 565.64,189.38 563.76,189.38 563.76,187.02 565.64,187.02" fill="#2ca02c"/>
<polygon points="565.64,284.60 567.99,284.60 567.99,286.47 569.86,286.47 569.86,288.82 567.99,288.82 567.99,290.70 565.64,290.70 565.64,288.82 563.76,288.82 563.76,286.47 565.64,286.47" fill="#d62728"/>
<polygon points="575.44,185.15 577.79,185.15 577.79,187.02 579.67,187.02 579.67,189.38 577.79,189.38 577.79,191.25 575.44,191.25 575.44,189.38 573.57,189.38 573.57,187.02 575.44,187.02" fill="#2ca02c"/>
<polygon points="575.44,284.60 577.79,284.60 577.79,286.47 579.67,286.47 579.67,288.82 577.79,288.82 577.79,290.70 575.44,290.70 575.44,288.82 573.57,288.82 573.57,286.47 575.44,286.47" fill="#d62728"/>
<polygon points="585.25,185.15 587.60,185.15 587.60,187.02 589.47,187.02 589.47,189.38 587.60,189.38 587.60,191.25 585.25,191.25 585.25,189.38 583.37,189.38 583.37,187.02 585.25,187.02" fill="#2ca02c"/>
<polygon points="585.25,284.60 587.60,284.60 587.60,286.47 589.47,286.47 589.47,288.82 587.60,288.82 587.60,290.70 585.25,290.70 585.25,288.82 583.37,288.82 583.37,286.47 585.25,286.47" fill="#d62728"/>
<polygon points="595.05,185.15 597.40,185.15 597.40,187.02 599.28,187.02 599.28,189.38 597.40,189.38 597.40,191.25 595.05,191.25 595.05,189.38 593.18,189.38 593.18,187.02 595.05,187.02" fill="#2ca02c"/>
<polygon points="595.05,284.60 597.40,284.60 597.40,286.47 599.28,286.47 599.28,288.82 597.40,288.82 597.40,290.70 595.05,290.70 595.05,288.82 593.18,288.82 593.18,286.47 595.05,286.47" fill="#d62728"/>
<polygon points="604.86,182.85 607.21,182.85 607.21,184.72 609.09,184.72 609.09,187.08 607.21,187.08 607.21,188.95 604.86,188.95 604.86,187.08 602.99,187.08 602.99,184.72 604.86,184.72" fill="#2ca02c"/>
<polygon points="604.86,285.55 607.21,285.55 607.21,287.43 609.09,287.43 609.09,289.78 607.21,289.78 607.21,291.65 604.86,291.65 604.86,289.78 602.99,289.78 602.99,287.43 604.86,287.43" fill="#d62728"/>
<polygon points="614.67,182.85 617.02,182.85 617.02,184.72 618.89,184.72 618.89,187.08 617.02,187.08 617.02,188.95 614.67,188.95 614.67,187.08 612.79,187.08 612.79,184.72 614.67,184.72" fill="#2ca02c"/>
<polygon points="614.67,285.55 617.02,285.55 617.02,287.43 618.89,287.43 618.89,289.78 617.02,289.78 617.02,291.65 614.67,291.65 614.67,289.78 612.79,289.78 612.79,287.43 614.67,287.43" fill="#d62728"/>
<polygon points="624.47,182.85 626.82,182.85 626.82,184.72 628.70,184.72 628.70,187.08 626.82,187.08 626.82,188.95 624.47,188.95 624.47,187.08 622.60,187.08 622.60,184.72 624.47,184.72" fill="#2ca02c"/>
<polygon points="624.47,285.55 626.82,285.55 626.82,287.43 628.70,287.43 628.70,289.78 626.82,289.78 626.82,291.65 624.47,291.65 624.47,289.78 622.60,289.78 622.60,287.43 624.47,287.43" fill="#d62728"/>
<polygon points="634.28,182.85 636.63,182.85 636.63,184.72 638.50,184.72 638.50,187.08 636.63,187.08 636.63,188.95 634.28,188.95 634.28,187.08 632.40,187.08 632.40,184.72 634.28,184.72" fill="#2ca02c"/>
<polygon points="634.28,285.55 636.63,285.55 636.63,287.43 638.50,287.43 638.50,289.78 636.63,289.78 636.63,291.65 634.28,291.65 634.28,289.78 632.40,289.78 632.40,287.43 634.28,287.43" fill="#d62728"/>
<polygon points="644.08,180.05 646.43,180.05 646.43,181.92 648.31,181.92 648.31,184.28 646.43,184.28 646.43,186.15 644.08,186.15 644.08,184.28 642.21,184.28 642.21,181.92 644.08,181.92" fill="#2ca02c"/>
<polygon points="644.08,286.45 646.43,286.45 646.43,288.32 648.31,288.32 648.31,290.68 646.43,290.68 646.43,292.55 644.08,292.55 644.08,290.68 642.21,290.68 642.21,288.32 644.08,288.32" fill="#d62728"/>
<polygon points="653.89,180.05 656.24,180.05 656.24,181.92 658.12,181.92 658.12,184.28 656.24,184.28 656.24,186.15 653.89,186.15 653.89,184.28 652.02,184.28 652.02,181.92 653.89,181.92" fill="#2ca02c"/>
<polygon points="653.89,286.45 656.24,286.45 656.24,288.32 658.12,288.32 658.12,290.68 656.24,290.68 656.24,292.55 653.89,292.55 653.89,290.68 652.02,290.68 652.02,288.32 653.89,288.32" fill="#d62728"/>
<polygon points="663.70,180.05 666.05,180.05 666.05,181.92 667.92,181.92 667.92,184.28 666.05,184.28 666.05,186.15 663.70,186.15 663.70,184.28 661.82,184.28 661.82,181.92 663.70,181.92" fill="#2ca02c"/>
<polygon points="663.70,286.45 666.05,286.45 666.05,288.32 667.92,288.32 667.92,290.68 666.05,290.68 666.05,292.55 663.70,292.55 663.70,290.68 661.82,290.68 661.82,288.32 663.70,288.32" fill="#d62728"/>
<polygon points="673.50,180.05 675.85,180.05 675.85,181.92 677.73,181.92 677.73,184.28 675.85,184.28 675.85,186.15 673.50,186.15 673.50,184.28 671.63,184.28 671.63,181.92 673.50,181.92" fill="#2ca02c"/>
<polygon points="673.50,286.45 675.85,286.45 675.85,288.32 677.73,288.32 677.73,290.68 675.85,290.68 675.85,292.55 673.50,292.55 673.50,290.68 671.63,290.68 671.63,288.32 673.50,288.32" fill="#d62728"/>
<rect x="46.90" y="171.80" width="638.00" height="1.0" fill="#4a4a4a"/>
<rect x="46.90" y="302.25" width="638.00" height="1.0" fill="#7c7c7c"/>
<rect x="46.90" y="171.80" width="1.0" height="131.45" fill="#8a8a8a"/>
<rect x="683.90" y="171.80" width="1.0" height="131.45" fill="#333333"/>
<rect x="45.80" y="171.80" width="1.20" height="1.0" fill="#555"/>
<rect x="45.80" y="193.54" width="1.20" height="1.0" fill="#555"/>
<rect x="45.80" y="215.28" width="1.20" height="1.0" fill="#555"/>
<rect x="45.80" y="237.03" width="1.20" height="1.0" fill="#555"/>
<rect x="45.80" y="258.77" width="1.20" height="1.0" fill="#555"/>
<rect x="45.80" y="280.51" width="1.20" height="1.0" fill="#555"/>
<rect x="45.80" y="302.25" width="1.20" height="1.0" fill="#555"/>
<rect x="589.1" y="223.8" width="92.40" height="27.00" rx="1.2" ry="1.2" fill="#ffffff" fill-opacity="0.8" stroke="#d6d6d6" stroke-width="0.7"/>
<polygon points="596.62,225.55 598.97,225.55 598.97,227.42 600.85,227.42 600.85,229.78 598.97,229.78 598.97,231.65 596.62,231.65 596.62,229.78 594.75,229.78 594.75,227.42 596.62,227.42" fill="#2ca02c"/>
<polygon points="596.62,234.25 598.97,234.25 598.97,236.12 600.85,236.12 600.85,238.48 598.97,238.48 598.97,240.35 596.62,240.35 596.62,238.48 594.75,238.48 594.75,236.12 596.62,236.12" fill="#d62728"/>
<circle cx="597.80" cy="246.10" r="3.0" fill="#ff7f0e"/>
<rect x="47.40" y="332.18" width="637.00" height="0.8" fill="#e9e9e9"/>
<rect x="47.40" y="348.45" width="637.00" height="0.8" fill="#e9e9e9"/>
<rect x="47.40" y="364.73" width="637.00" height="0.8" fill="#e9e9e9"/>
<rect x="47.40" y="381.00" width="637.00" height="0.8" fill="#e9e9e9"/>
<rect x="47.40" y="397.28" width="637.00" height="0.8" fill="#e9e9e9"/>
<rect x="47.40" y="413.55" width="637.00" height="0.8" fill="#e9e9e9"/>
<rect x="47.40" y="429.83" width="637.00" height="0.8" fill="#e9e9e9"/>
<circle cx="66.71" cy="355.10" r="3.0" fill="#1f77b4"/>
<circle cx="76.51" cy="326.20" r="3.0" fill="#1f77b4"/>
<circle cx="96.12" cy="402.10" r="3.0" fill="#1f77b4"/>
<circle cx="115.74" cy="401.80" r="3.0" fill="#1f77b4"/>
<circle cx="135.35" cy="403.10" r="3.0" fill="#1f77b4"/>
<circle cx="145.15" cy="411.10" r="3.0" fill="#1f77b4"/>
<circle cx="164.77" cy="397.40" r="3.0" fill="#1f77b4"/>
<circle cx="184.38" cy="329.50" r="3.0" fill="#1f77b4"/>
<circle cx="233.41" cy="398.10" r="3.0" fill="#1f77b4"/>
<circle cx="243.21" cy="372.70" r="3.0" fill="#1f77b4"/>
<circle cx="262.83" cy="358.40" r="3.0" fill="#1f77b4"/>
<circle cx="566.81" cy="369.30" r="3.0" fill="#1f77b4"/>
<circle cx="66.71" cy="427.05" r="3.0" fill="#ff7f0e"/>
<circle cx="76.51" cy="427.05" r="3.0" fill="#ff7f0e"/>
<circle cx="96.12" cy="428.80" r="3.0" fill="#ff7f0e"/>
<circle cx="115.74" cy="428.80" r="3.0" fill="#ff7f0e"/>
<circle cx="135.35" cy="430.10" r="3.0" fill="#ff7f0e"/>
<circle cx="145.15" cy="430.10" r="3.0" fill="#ff7f0e"/>
<circle cx="164.77" cy="430.10" r="3.0" fill="#ff7f0e"/>
<circle cx="184.38" cy="441.10" r="3.0" fill="#ff7f0e"/>
<circle cx="233.41" cy="437.90" r="3.0" fill="#ff7f0e"/>
<circle cx="243.21" cy="437.90" r="3.0" fill="#ff7f0e"/>
<circle cx="262.83" cy="441.10" r="3.0" fill="#ff7f0e"/>
<circle cx="566.81" cy="440.10" r="3.0" fill="#ff7f0e"/>
<polygon points="65.53,440.65 67.88,440.65 67.88,442.52 69.76,442.52 69.76,444.88 67.88,444.88 67.88,446.75 65.53,446.75 65.53,444.88 63.66,444.88 63.66,442.52 65.53,442.52" fill="#2ca02c"/>
<polygon points="75.34,440.65 77.69,440.65 77.69,442.52 79.56,442.52 79.56,444.88 77.69,444.88 77.69,446.75 75.34,446.75 75.34,444.88 73.46,444.88 73.46,442.52 75.34,442.52" fill="#2ca02c"/>
<polygon points="94.95,440.65 97.30,440.65 97.30,442.52 99.17,442.52 99.17,444.88 97.30,444.88 97.30,446.75 94.95,446.75 94.95,444.88 93.07,444.88 93.07,442.52 94.95,442.52" fill="#2ca02c"/>
<polygon points="114.56,440.65 116.91,440.65 116.91,442.52 118.79,442.52 118.79,444.88 116.91,444.88 116.91,446.75 114.56,446.75 114.56,444.88 112.69,444.88 112.69,442.52 114.56,442.52" fill="#2ca02c"/>
<polygon points="134.17,440.65 136.52,440.65 136.52,442.52 138.40,442.52 138.40,444.88 136.52,444.88 136.52,446.75 134.17,446.75 134.17,444.88 132.30,444.88 132.30,442.52 134.17,442.52" fill="#2ca02c"/>
<polygon points="143.98,440.65 146.33,440.65 146.33,442.52 148.20,442.52 148.20,444.88 146.33,444.88 146.33,446.75 143.98,446.75 143.98,444.88 142.10,444.88 142.10,442.52 143.98,442.52" fill="#2ca02c"/>
<polygon points="163.59,440.65 165.94,440.65 165.94,442.52 167.82,442.52 167.82,444.88 165.94,444.88 165.94,446.75 163.59,446.75 163.59,444.88 161.72,444.88 161.72,442.52 163.59,442.52" fill="#2ca02c"/>
<polygon points="183.20,440.35 185.55,440.35 185.55,442.22 187.43,442.22 187.43,444.57 185.55,444.57 185.55,446.45 183.20,446.45 183.20,444.57 181.33,444.57 181.33,442.22 183.20,442.22" fill="#2ca02c"/>
<polygon points="232.23,440.65 234.58,440.65 234.58,442.52 236.46,442.52 236.46,444.88 234.58,444.88 234.58,446.75 232.23,446.75 232.23,444.88 230.36,444.88 230.36,442.52 232.23,442.52" fill="#2ca02c"/>
<polygon points="242.04,440.65 244.39,440.65 244.39,442.52 246.26,442.52 246.26,444.88 244.39,444.88 244.39,446.75 242.04,446.75 242.04,444.88 240.16,444.88 240.16,442.52 242.04,442.52" fill="#2ca02c"/>
<polygon points="261.65,440.25 264.00,440.25 264.00,442.12 265.88,442.12 265.88,444.48 264.00,444.48 264.00,446.35 261.65,446.35 261.65,444.48 259.78,444.48 259.78,442.12 261.65,442.12" fill="#2ca02c"/>
<polygon points="565.64,440.05 567.99,440.05 567.99,441.93 569.86,441.93 569.86,444.28 567.99,444.28 567.99,446.15 565.64,446.15 565.64,444.28 563.76,444.28 563.76,441.93 565.64,441.93" fill="#2ca02c"/>
<polygon points="65.53,400.05 67.88,400.05 67.88,401.93 69.76,401.93 69.76,404.28 67.88,404.28 67.88,406.15 65.53,406.15 65.53,404.28 63.66,404.28 63.66,401.93 65.53,401.93" fill="#d62728"/>
<polygon points="75.34,400.05 77.69,400.05 77.69,401.93 79.56,401.93 79.56,404.28 77.69,404.28 77.69,406.15 75.34,406.15 75.34,404.28 73.46,404.28 73.46,401.93 75.34,401.93" fill="#d62728"/>
<polygon points="94.95,402.65 97.30,402.65 97.30,404.52 99.17,404.52 99.17,406.88 97.30,406.88 97.30,408.75 94.95,408.75 94.95,406.88 93.07,406.88 93.07,404.52 94.95,404.52" fill="#d62728"/>
<polygon points="114.56,402.65 116.91,402.65 116.91,404.52 118.79,404.52 118.79,406.88 116.91,406.88 116.91,408.75 114.56,408.75 114.56,406.88 112.69,406.88 112.69,404.52 114.56,404.52" fill="#d62728"/>
<polygon points="134.17,401.25 136.52,401.25 136.52,403.12 138.40,403.12 138.40,405.48 136.52,405.48 136.52,407.35 134.17,407.35 134.17,405.48 132.30,405.48 132.30,403.12 134.17,403.12" fill="#d62728"/>
<polygon points="143.98,401.25 146.33,401.25 146.33,403.12 148.20,403.12 148.20,405.48 146.33,405.48 146.33,407.35 143.98,407.35 143.98,405.48 142.10,405.48 142.10,403.12 143.98,403.12" fill="#d62728"/>
<polygon points="163.59,401.25 165.94,401.25 165.94,403.12 167.82,403.12 167.82,405.48 165.94,405.48 165.94,407.35 163.59,407.35 163.59,405.48 161.72,405.48 161.72,403.12 163.59,403.12" fill="#d62728"/>
<polygon points="183.20,402.65 185.55,402.65 185.55,404.52 187.43,404.52 187.43,406.88 185.55,406.88 185.55,408.75 183.20,408.75 183.20,406.88 181.33,406.88 181.33,404.52 183.20,404.52" fill="#d62728"/>
<polygon points="232.23,402.95 234.58,402.95 234.58,404.82 236.46,404.82 236.46,407.18 234.58,407.18 234.58,409.05 232.23,409.05 232.23,407.18 230.36,407.18 230.36,404.82 232.23,404.82" fill="#d62728"/>
<polygon points="242.04,402.95 244.39,402.95 244.39,404.82 246.26,404.82 246.26,407.18 244.39,407.18 244.39,409.05 242.04,409.05 242.04,407.18 240.16,407.18 240.16,404.82 242.04,404.82" fill="#d62728"/>
<polygon points="261.65,403.85 264.00,403.85 264.00,405.72 265.88,405.72 265.88,408.07 264.00,408.07 264.00,409.95 261.65,409.95 261.65,408.07 259.78,408.07 259.78,405.72 261.65,405.72" fill="#d62728"/>
<polygon points="565.64,403.95 567.99,403.95 567.99,405.82 569.86,405.82 569.86,408.18 567.99,408.18 567.99,410.05 565.64,410.05 565.64,408.18 563.76,408.18 563.76,405.82 565.64,405.82" fill="#d62728"/>
<rect x="46.90" y="315.80" width="638.00" height="1.0" fill="#4a4a4a"/>
<rect x="46.90" y="446.00" width="638.00" height="1.0" fill="#7c7c7c"/>
<rect x="46.90" y="315.80" width="1.0" height="131.20" fill="#8a8a8a"/>
<rect x="683.90" y="315.80" width="1.0" height="131.20" fill="#333333"/>
<rect x="45.80" y="315.80" width="1.20" height="1.0" fill="#555"/>
<rect x="45.80" y="332.07" width="1.20" height="1.0" fill="#555"/>
<rect x="45.80" y="348.35" width="1.20" height="1.0" fill="#555"/>
<rect x="45.80" y="364.62" width="1.20" height="1.0" fill="#555"/>
<rect x="45.80" y="380.90" width="1.20" height="1.0" fill="#555"/>
<rect x="45.80" y="397.18" width="1.20" height="1.0" fill="#555"/>
<rect x="45.80" y="413.45" width="1.20" height="1.0" fill="#555"/>
<rect x="45.80" y="429.73" width="1.20" height="1.0" fill="#555"/>
<rect x="45.80" y="446.00" width="1.20" height="1.0" fill="#555"/>
<rect x="601.6" y="318.6" width="80.10" height="37.80" rx="1.2" ry="1.2" fill="#ffffff" fill-opacity="0.8" stroke="#d6d6d6" stroke-width="0.7"/>
<circle cx="609.80" cy="324.20" r="3.0" fill="#1f77b4"/>
<polygon points="608.62,329.95 610.97,329.95 610.97,331.82 612.85,331.82 612.85,334.18 610.97,334.18 610.97,336.05 608.62,336.05 608.62,334.18 606.75,334.18 606.75,331.82 608.62,331.82" fill="#2ca02c"/>
<polygon points="608.62,338.75 610.97,338.75 610.97,340.62 612.85,340.62 612.85,342.98 610.97,342.98 610.97,344.85 608.62,344.85 608.62,342.98 606.75,342.98 606.75,340.62 608.62,340.62" fill="#d62728"/>
<circle cx="609.80" cy="350.80" r="3.0" fill="#ff7f0e"/>
<rect x="56.50" y="446.90" width="0.8" height="1.40" fill="#666"/>
<rect x="66.31" y="446.90" width="0.8" height="1.40" fill="#666"/>
<rect x="76.11" y="446.90" width="0.8" height="1.40" fill="#666"/>
<rect x="85.92" y="446.90" width="0.8" height="1.40" fill="#666"/>
<rect x="95.72" y="446.90" width="0.8" height="1.40" fill="#666"/>
<rect x="105.53" y="446.90" width="0.8" height="1.40" fill="#666"/>
<rect x="115.34" y="446.90" width="0.8" height="1.40" fill="#666"/>
<rect x="125.14" y="446.90" width="0.8" height="1.40" fill="#666"/>
<rect x="134.95" y="446.90" width="0.8" height="1.40" fill="#666"/>
<rect x="144.75" y="446.90" width="0.8" height="1.40" fill="#666"/>
<rect x="154.56" y="446.90" width="0.8" height="1.40" fill="#666"/>
<rect x="164.37" y="446.90" width="0.8" height="1.40" fill="#666"/>
<rect x="174.17" y="446.90" width="0.8" height="1.40" fill="#666"/>
<rect x="183.98" y="446.90" width="0.8" height="1.40" fill="#666"/>
<rect x="193.78" y="446.90" width="0.8" height="1.40" fill="#666"/>
<rect x="203.59" y="446.90" width="0.8" height="1.40" fill="#666"/>
<rect x="213.40" y="446.90" width="0.8" height="1.40" fill="#666"/>
<rect x="223.20" y="446.90" width="0.8" height="1.40" fill="#666"/>
<rect x="233.01" y="446.90" width="0.8" height="1.40" fill="#666"/>
<rect x="242.81" y="446.90" width="0.8" height="1.40" fill="#666"/>
<rect x="252.62" y="446.90" width="0.8" height="1.40" fill="#666"/>
<rect x="262.43" y="446.90" width="0.8" height="1.40" fill="#666"/>
<rect x="272.23" y="446.90" width="0.8" height="1.40" fill="#666"/>
<rect x="282.04" y="446.90" width="0.8" height="1.40" fill="#666"/>
<rect x="291.84" y="446.90" width="0.8" height="1.40" fill="#666"/>
<rect x="301.65" y="446.90" width="0.8" height="1.40" fill="#666"/>
<rect x="311.46" y="446.90" width="0.8" height="1.40" fill="#666"/>
<rect x="321.26" y="446.90" width="0.8" height="1.40" fill="#666"/>
<rect x="331.07" y="446.90" width="0.8" height="1.40" fill="#666"/>
<rect x="340.87" y="446.90" width="0.8" height="1.40" fill="#666"/>
<rect x="350.68" y="446.90" width="0.8" height="1.40" fill="#666"/>
<rect x="360.49" y="446.90" width="0.8" height="1.40" fill="#666"/>
<rect x="370.29" y="446.90" width="0.8" height="1.40" fill="#666"/>
<rect x="380.10" y="446.90" width="0.8" height="1.40" fill="#666"/>
<rect x="389.90" y="446.90" width="0.8" height="1.40" fill="#666"/>
<rect x="399.71" y="446.90" width="0.8" height="1.40" fill="#666"/>
<rect x="409.52" y="446.90" width="0.8" height="1.40" fill="#666"/>
<rect x="419.32" y="446.90" width="0.8" height="1.40" fill="#666"/>
<rect x="429.13" y="446.90" width="0.8" height="1.40" fill="#666"/>
<rect x="438.93" y="446.90" width="0.8" height="1.40" fill="#666"/>
<rect x="448.74" y="446.90" width="0.8" height="1.40" fill="#666"/>
<rect x="458.55" y="446.90" width="0.8" height="1.40" fill="#666"/>
<rect x="468.35" y="446.90" width="0.8" height="1.40" fill="#666"/>
<rect x="478.16" y="446.90" width="0.8" height="1.40" fill="#666"/>
<rect x="487.96" y="446.90" width="0.8" height="1.40" fill="#666"/>
<rect x="497.77" y="446.90" width="0.8" height="1.40" fill="#666"/>
<rect x="507.58" y="446.90" width="0.8" height="1.40" fill="#666"/>
<rect x="517.38" y="446.90" width="0.8" height="1.40" fill="#666"/>
<rect x="527.19" y="446.90" width="0.8" height="1.40" fill="#666"/>
<rect x="536.99" y="446.90" width="0.8" height="1.40" fill="#666"/>
<rect x="546.80" y="446.90" width="0.8" height="1.40" fill="#666"/>
<rect x="556.61" y="446.90" width="0.8" height="1.40" fill="#666"/>
<rect x="566.41" y="446.90" width="0.8" height="1.40" fill="#666"/>
<rect x="576.22" y="446.90" width="0.8" height="1.40" fill="#666"/>
<rect x="586.02" y="446.90" width="0.8" height="1.40" fill="#666"/>
<rect x="595.83" y="446.90" width="0.8" height="1.40" fill="#666"/>
<rect x="605.64" y="446.90" width="0.8" height="1.40" fill="#666"/>
<rect x="615.44" y="446.90" width="0.8" height="1.40" fill="#666"/>
<rect x="625.25" y="446.90" width="0.8" height="1.40" fill="#666"/>
<rect x="635.05" y="446.90" width="0.8" height="1.40" fill="#666"/>
<rect x="644.86" y="446.90" width="0.8" height="1.40" fill="#666"/>
<rect x="654.67" y="446.90" width="0.8" height="1.40" fill="#666"/>
<rect x="664.47" y="446.90" width="0.8" height="1.40" fill="#666"/>
<rect x="674.28" y="446.90" width="0.8" height="1.40" fill="#666"/>
<g opacity="0.99" stroke="#000" stroke-width="0.18" stroke-linejoin="round">
<text transform="translate(44.20,31.50) rotate(0.03)" font-size="8.8" text-anchor="end" textLength="18.14" lengthAdjust="spacingAndGlyphs">0.08</text>
<text transform="translate(44.20,64.16) rotate(0.03)" font-size="8.8" text-anchor="end" textLength="18.14" lengthAdjust="spacingAndGlyphs">0.06</text>
<text transform="translate(44.20,96.83) rotate(0.03)" font-size="8.8" text-anchor="end" textLength="18.14" lengthAdjust="spacingAndGlyphs">0.04</text>
<text transform="translate(44.20,129.49) rotate(0.03)" font-size="8.8" text-anchor="end" textLength="18.14" lengthAdjust="spacingAndGlyphs">0.02</text>
<text transform="translate(44.20,162.15) rotate(0.03)" font-size="8.8" text-anchor="end" textLength="18.14" lengthAdjust="spacingAndGlyphs">0.00</text>
<text transform="translate(56.90,24.60) rotate(0.03)" font-size="7.2" text-anchor="middle" textLength="4.20" lengthAdjust="spacingAndGlyphs">1</text>
<text transform="translate(96.12,24.60) rotate(0.03)" font-size="7.2" text-anchor="middle" textLength="4.20" lengthAdjust="spacingAndGlyphs">2</text>
<text transform="translate(135.35,24.60) rotate(0.03)" font-size="7.2" text-anchor="middle" textLength="4.20" lengthAdjust="spacingAndGlyphs">3</text>
<text transform="translate(174.57,24.60) rotate(0.03)" font-size="7.2" text-anchor="middle" textLength="4.20" lengthAdjust="spacingAndGlyphs">8</text>
<text transform="translate(213.80,24.60) rotate(0.03)" font-size="7.2" text-anchor="middle" textLength="4.20" lengthAdjust="spacingAndGlyphs">9</text>
<text transform="translate(253.02,24.60) rotate(0.03)" font-size="7.2" text-anchor="middle" textLength="8.40" lengthAdjust="spacingAndGlyphs">20</text>
<text transform="translate(292.24,24.60) rotate(0.03)" font-size="7.2" text-anchor="middle" textLength="8.40" lengthAdjust="spacingAndGlyphs">30</text>
<text transform="translate(331.47,24.60) rotate(0.03)" font-size="7.2" text-anchor="middle" textLength="8.40" lengthAdjust="spacingAndGlyphs">45</text>
<text transform="translate(370.69,24.60) rotate(0.03)" font-size="7.2" text-anchor="middle" textLength="8.40" lengthAdjust="spacingAndGlyphs">50</text>
<text transform="translate(409.92,24.60) rotate(0.03)" font-size="7.2" text-anchor="middle" textLength="8.40" lengthAdjust="spacingAndGlyphs">65</text>
<text transform="translate(449.14,24.60) rotate(0.03)" font-size="7.2" text-anchor="middle" textLength="8.40" lengthAdjust="spacingAndGlyphs">70</text>
<text transform="translate(488.36,24.60) rotate(0.03)" font-size="7.2" text-anchor="middle" textLength="8.40" lengthAdjust="spacingAndGlyphs">72</text>
<text transform="translate(527.59,24.60) rotate(0.03)" font-size="7.2" text-anchor="middle" textLength="8.40" lengthAdjust="spacingAndGlyphs">85</text>
<text transform="translate(566.81,24.60) rotate(0.03)" font-size="7.2" text-anchor="middle" textLength="8.40" lengthAdjust="spacingAndGlyphs">90</text>
<text transform="translate(606.04,24.60) rotate(0.03)" font-size="7.2" text-anchor="middle" textLength="8.40" lengthAdjust="spacingAndGlyphs">95</text>
<text transform="translate(645.26,24.60) rotate(0.03)" font-size="7.2" text-anchor="middle" textLength="12.59" lengthAdjust="spacingAndGlyphs">105</text>
<text transform="translate(375.50,44.60) rotate(0.03)" font-size="9.8" text-anchor="middle" textLength="9.60" lengthAdjust="spacingAndGlyphs" font-weight="bold" stroke-width="0.35">a)</text>
<text transform="translate(621.00,38.50) rotate(0.03)" font-size="6.8" textLength="56.10" lengthAdjust="spacingAndGlyphs">M2 dv/v amplitude</text>
<text transform="translate(621.00,47.10) rotate(0.03)" font-size="6.8" textLength="57.80" lengthAdjust="spacingAndGlyphs">M2 dv/v noise level</text>
<text transform="translate(44.20,175.35) rotate(0.03)" font-size="8.8" text-anchor="end" textLength="10.37" lengthAdjust="spacingAndGlyphs">18</text>
<text transform="translate(44.20,197.09) rotate(0.03)" font-size="8.8" text-anchor="end" textLength="10.37" lengthAdjust="spacingAndGlyphs">15</text>
<text transform="translate(44.20,218.83) rotate(0.03)" font-size="8.8" text-anchor="end" textLength="10.37" lengthAdjust="spacingAndGlyphs">12</text>
<text transform="translate(44.20,240.58) rotate(0.03)" font-size="8.8" text-anchor="end" textLength="5.18" lengthAdjust="spacingAndGlyphs">9</text>
<text transform="translate(44.20,262.32) rotate(0.03)" font-size="8.8" text-anchor="end" textLength="5.18" lengthAdjust="spacingAndGlyphs">6</text>
<text transform="translate(44.20,284.06) rotate(0.03)" font-size="8.8" text-anchor="end" textLength="5.18" lengthAdjust="spacingAndGlyphs">3</text>
<text transform="translate(44.20,305.80) rotate(0.03)" font-size="8.8" text-anchor="end" textLength="5.18" lengthAdjust="spacingAndGlyphs">0</text>
<text transform="translate(375.60,208.80) rotate(0.03)" font-size="9.8" text-anchor="middle" textLength="9.20" lengthAdjust="spacingAndGlyphs" font-weight="bold" stroke-width="0.35">b)</text>
<text transform="translate(608.80,230.60) rotate(0.03)" font-size="6.8" textLength="54.00" lengthAdjust="spacingAndGlyphs">M2 amplitude SET</text>
<text transform="translate(608.80,239.40) rotate(0.03)" font-size="6.8" textLength="53.30" lengthAdjust="spacingAndGlyphs">M2 amplitude OLT</text>
<text transform="translate(608.80,248.10) rotate(0.03)" font-size="6.8" textLength="69.60" lengthAdjust="spacingAndGlyphs">M2 amplitude SET+OLT</text>
<text transform="translate(44.20,319.35) rotate(0.03)" font-size="8.8" text-anchor="end" textLength="15.55" lengthAdjust="spacingAndGlyphs">180</text>
<text transform="translate(44.20,335.62) rotate(0.03)" font-size="8.8" text-anchor="end" textLength="15.55" lengthAdjust="spacingAndGlyphs">135</text>
<text transform="translate(44.20,351.90) rotate(0.03)" font-size="8.8" text-anchor="end" textLength="10.37" lengthAdjust="spacingAndGlyphs">90</text>
<text transform="translate(44.20,368.18) rotate(0.03)" font-size="8.8" text-anchor="end" textLength="10.37" lengthAdjust="spacingAndGlyphs">45</text>
<text transform="translate(44.20,384.45) rotate(0.03)" font-size="8.8" text-anchor="end" textLength="5.18" lengthAdjust="spacingAndGlyphs">0</text>
<text transform="translate(44.20,400.73) rotate(0.03)" font-size="8.8" text-anchor="end" textLength="17.20" lengthAdjust="spacingAndGlyphs">−45</text>
<text transform="translate(44.20,417.00) rotate(0.03)" font-size="8.8" text-anchor="end" textLength="17.20" lengthAdjust="spacingAndGlyphs">−90</text>
<text transform="translate(44.20,433.28) rotate(0.03)" font-size="8.8" text-anchor="end" textLength="22.38" lengthAdjust="spacingAndGlyphs">−135</text>
<text transform="translate(44.20,449.55) rotate(0.03)" font-size="8.8" text-anchor="end" textLength="22.38" lengthAdjust="spacingAndGlyphs">−180</text>
<text transform="translate(375.20,332.40) rotate(0.03)" font-size="9.8" text-anchor="middle" textLength="8.60" lengthAdjust="spacingAndGlyphs" font-weight="bold" stroke-width="0.35">c)</text>
<text transform="translate(621.00,326.20) rotate(0.03)" font-size="6.8" textLength="43.40" lengthAdjust="spacingAndGlyphs">M2 phase dv/v</text>
<text transform="translate(621.00,335.00) rotate(0.03)" font-size="6.8" textLength="41.70" lengthAdjust="spacingAndGlyphs">M2 phase SET</text>
<text transform="translate(621.00,343.80) rotate(0.03)" font-size="6.8" textLength="41.40" lengthAdjust="spacingAndGlyphs">M2 phase OLT</text>
<text transform="translate(621.00,352.70) rotate(0.03)" font-size="6.8" textLength="57.70" lengthAdjust="spacingAndGlyphs">M2 phase SET+OLT</text>
<text transform="translate(56.90,458.44) rotate(-60.0)" y="2.50" font-size="7.2" text-anchor="middle" textLength="17.29" lengthAdjust="spacingAndGlyphs">PB12</text>
<text transform="translate(66.71,455.14) rotate(-60.0)" y="2.50" font-size="7.2" text-anchor="middle" textLength="9.67" lengthAdjust="spacingAndGlyphs">NZ</text>
<text transform="translate(76.51,454.98) rotate(-60.0)" y="2.50" font-size="7.2" text-anchor="middle" textLength="9.31" lengthAdjust="spacingAndGlyphs">EN</text>
<text transform="translate(86.32,454.80) rotate(-60.0)" y="2.50" font-size="7.2" text-anchor="middle" textLength="8.89" lengthAdjust="spacingAndGlyphs">EZ</text>
<text transform="translate(96.12,458.44) rotate(-60.0)" y="2.50" font-size="7.2" text-anchor="middle" textLength="17.29" lengthAdjust="spacingAndGlyphs">PB10</text>
<text transform="translate(105.93,455.14) rotate(-60.0)" y="2.50" font-size="7.2" text-anchor="middle" textLength="9.67" lengthAdjust="spacingAndGlyphs">NZ</text>
<text transform="translate(115.74,454.98) rotate(-60.0)" y="2.50" font-size="7.2" text-anchor="middle" textLength="9.31" lengthAdjust="spacingAndGlyphs">EN</text>
<text transform="translate(125.54,454.80) rotate(-60.0)" y="2.50" font-size="7.2" text-anchor="middle" textLength="8.89" lengthAdjust="spacingAndGlyphs">EZ</text>
<text transform="translate(135.35,460.54) rotate(-60.0)" y="2.50" font-size="7.2" text-anchor="middle" textLength="22.15" lengthAdjust="spacingAndGlyphs">PATCX</text>
<text transform="translate(145.15,455.14) rotate(-60.0)" y="2.50" font-size="7.2" text-anchor="middle" textLength="9.67" lengthAdjust="spacingAndGlyphs">NZ</text>
<text transform="translate(154.96,454.98) rotate(-60.0)" y="2.50" font-size="7.2" text-anchor="middle" textLength="9.31" lengthAdjust="spacingAndGlyphs">EN</text>
<text transform="translate(164.77,454.80) rotate(-60.0)" y="2.50" font-size="7.2" text-anchor="middle" textLength="8.89" lengthAdjust="spacingAndGlyphs">EZ</text>
<text transform="translate(174.57,460.88) rotate(-60.0)" y="2.50" font-size="7.2" text-anchor="middle" textLength="22.92" lengthAdjust="spacingAndGlyphs">PSGCX</text>
<text transform="translate(184.38,455.14) rotate(-60.0)" y="2.50" font-size="7.2" text-anchor="middle" textLength="9.67" lengthAdjust="spacingAndGlyphs">NZ</text>
<text transform="translate(194.18,454.98) rotate(-60.0)" y="2.50" font-size="7.2" text-anchor="middle" textLength="9.31" lengthAdjust="spacingAndGlyphs">EN</text>
<text transform="translate(203.99,454.80) rotate(-60.0)" y="2.50" font-size="7.2" text-anchor="middle" textLength="8.89" lengthAdjust="spacingAndGlyphs">EZ</text>
<text transform="translate(213.80,458.44) rotate(-60.0)" y="2.50" font-size="7.2" text-anchor="middle" textLength="17.29" lengthAdjust="spacingAndGlyphs">PB05</text>
<text transform="translate(223.60,455.14) rotate(-60.0)" y="2.50" font-size="7.2" text-anchor="middle" textLength="9.67" lengthAdjust="spacingAndGlyphs">NZ</text>
<text transform="translate(233.41,454.98) rotate(-60.0)" y="2.50" font-size="7.2" text-anchor="middle" textLength="9.31" lengthAdjust="spacingAndGlyphs">EN</text>
<text transform="translate(243.21,454.80) rotate(-60.0)" y="2.50" font-size="7.2" text-anchor="middle" textLength="8.89" lengthAdjust="spacingAndGlyphs">EZ</text>
<text transform="translate(253.02,458.44) rotate(-60.0)" y="2.50" font-size="7.2" text-anchor="middle" textLength="17.29" lengthAdjust="spacingAndGlyphs">PB02</text>
<text transform="translate(262.83,455.14) rotate(-60.0)" y="2.50" font-size="7.2" text-anchor="middle" textLength="9.67" lengthAdjust="spacingAndGlyphs">NZ</text>
<text transform="translate(272.63,454.98) rotate(-60.0)" y="2.50" font-size="7.2" text-anchor="middle" textLength="9.31" lengthAdjust="spacingAndGlyphs">EN</text>
<text transform="translate(282.44,454.80) rotate(-60.0)" y="2.50" font-size="7.2" text-anchor="middle" textLength="8.89" lengthAdjust="spacingAndGlyphs">EZ</text>
<text transform="translate(292.24,458.44) rotate(-60.0)" y="2.50" font-size="7.2" text-anchor="middle" textLength="17.29" lengthAdjust="spacingAndGlyphs">PB07</text>
<text transform="translate(302.05,455.14) rotate(-60.0)" y="2.50" font-size="7.2" text-anchor="middle" textLength="9.67" lengthAdjust="spacingAndGlyphs">NZ</text>
<text transform="translate(311.86,454.98) rotate(-60.0)" y="2.50" font-size="7.2" text-anchor="middle" textLength="9.31" lengthAdjust="spacingAndGlyphs">EN</text>
<text transform="translate(321.66,454.80) rotate(-60.0)" y="2.50" font-size="7.2" text-anchor="middle" textLength="8.89" lengthAdjust="spacingAndGlyphs">EZ</text>
<text transform="translate(331.47,458.44) rotate(-60.0)" y="2.50" font-size="7.2" text-anchor="middle" textLength="17.29" lengthAdjust="spacingAndGlyphs">PB03</text>
<text transform="translate(341.27,455.14) rotate(-60.0)" y="2.50" font-size="7.2" text-anchor="middle" textLength="9.67" lengthAdjust="spacingAndGlyphs">NZ</text>
<text transform="translate(351.08,454.98) rotate(-60.0)" y="2.50" font-size="7.2" text-anchor="middle" textLength="9.31" lengthAdjust="spacingAndGlyphs">EN</text>
<text transform="translate(360.89,454.80) rotate(-60.0)" y="2.50" font-size="7.2" text-anchor="middle" textLength="8.89" lengthAdjust="spacingAndGlyphs">EZ</text>
<text transform="translate(370.69,458.44) rotate(-60.0)" y="2.50" font-size="7.2" text-anchor="middle" textLength="17.29" lengthAdjust="spacingAndGlyphs">PB11</text>
<text transform="translate(380.50,455.14) rotate(-60.0)" y="2.50" font-size="7.2" text-anchor="middle" textLength="9.67" lengthAdjust="spacingAndGlyphs">NZ</text>
<text transform="translate(390.30,454.98) rotate(-60.0)" y="2.50" font-size="7.2" text-anchor="middle" textLength="9.31" lengthAdjust="spacingAndGlyphs">EN</text>
<text transform="translate(400.11,454.80) rotate(-60.0)" y="2.50" font-size="7.2" text-anchor="middle" textLength="8.89" lengthAdjust="spacingAndGlyphs">EZ</text>
<text transform="translate(409.92,458.44) rotate(-60.0)" y="2.50" font-size="7.2" text-anchor="middle" textLength="17.29" lengthAdjust="spacingAndGlyphs">PB01</text>
<text transform="translate(419.72,455.14) rotate(-60.0)" y="2.50" font-size="7.2" text-anchor="middle" textLength="9.67" lengthAdjust="spacingAndGlyphs">NZ</text>
<text transform="translate(429.53,454.98) rotate(-60.0)" y="2.50" font-size="7.2" text-anchor="middle" textLength="9.31" lengthAdjust="spacingAndGlyphs">EN</text>
<text transform="translate(439.33,454.80) rotate(-60.0)" y="2.50" font-size="7.2" text-anchor="middle" textLength="8.89" lengthAdjust="spacingAndGlyphs">EZ</text>
<text transform="translate(449.14,462.22) rotate(-60.0)" y="2.50" font-size="7.2" text-anchor="middle" textLength="26.03" lengthAdjust="spacingAndGlyphs">MNMCX</text>
<text transform="translate(458.95,455.14) rotate(-60.0)" y="2.50" font-size="7.2" text-anchor="middle" textLength="9.67" lengthAdjust="spacingAndGlyphs">NZ</text>
<text transform="translate(468.75,454.98) rotate(-60.0)" y="2.50" font-size="7.2" text-anchor="middle" textLength="9.31" lengthAdjust="spacingAndGlyphs">EN</text>
<text transform="translate(478.56,454.80) rotate(-60.0)" y="2.50" font-size="7.2" text-anchor="middle" textLength="8.89" lengthAdjust="spacingAndGlyphs">EZ</text>
<text transform="translate(488.36,458.44) rotate(-60.0)" y="2.50" font-size="7.2" text-anchor="middle" textLength="17.29" lengthAdjust="spacingAndGlyphs">PB06</text>
<text transform="translate(498.17,455.14) rotate(-60.0)" y="2.50" font-size="7.2" text-anchor="middle" textLength="9.67" lengthAdjust="spacingAndGlyphs">NZ</text>
<text transform="translate(507.98,454.98) rotate(-60.0)" y="2.50" font-size="7.2" text-anchor="middle" textLength="9.31" lengthAdjust="spacingAndGlyphs">EN</text>
<text transform="translate(517.78,454.80) rotate(-60.0)" y="2.50" font-size="7.2" text-anchor="middle" textLength="8.89" lengthAdjust="spacingAndGlyphs">EZ</text>
<text transform="translate(527.59,458.44) rotate(-60.0)" y="2.50" font-size="7.2" text-anchor="middle" textLength="17.29" lengthAdjust="spacingAndGlyphs">PB16</text>
<text transform="translate(537.39,455.14) rotate(-60.0)" y="2.50" font-size="7.2" text-anchor="middle" textLength="9.67" lengthAdjust="spacingAndGlyphs">NZ</text>
<text transform="translate(547.20,454.98) rotate(-60.0)" y="2.50" font-size="7.2" text-anchor="middle" textLength="9.31" lengthAdjust="spacingAndGlyphs">EN</text>
<text transform="translate(557.01,454.80) rotate(-60.0)" y="2.50" font-size="7.2" text-anchor="middle" textLength="8.89" lengthAdjust="spacingAndGlyphs">EZ</text>
<text transform="translate(566.81,458.44) rotate(-60.0)" y="2.50" font-size="7.2" text-anchor="middle" textLength="17.29" lengthAdjust="spacingAndGlyphs">PB15</text>
<text transform="translate(576.62,455.14) rotate(-60.0)" y="2.50" font-size="7.2" text-anchor="middle" textLength="9.67" lengthAdjust="spacingAndGlyphs">NZ</text>
<text transform="translate(586.42,454.98) rotate(-60.0)" y="2.50" font-size="7.2" text-anchor="middle" textLength="9.31" lengthAdjust="spacingAndGlyphs">EN</text>
<text transform="translate(596.23,454.80) rotate(-60.0)" y="2.50" font-size="7.2" text-anchor="middle" textLength="8.89" lengthAdjust="spacingAndGlyphs">EZ</text>
<text transform="translate(606.04,458.44) rotate(-60.0)" y="2.50" font-size="7.2" text-anchor="middle" textLength="17.29" lengthAdjust="spacingAndGlyphs">PB09</text>
<text transform="translate(615.84,455.14) rotate(-60.0)" y="2.50" font-size="7.2" text-anchor="middle" textLength="9.67" lengthAdjust="spacingAndGlyphs">NZ</text>
<text transform="translate(625.65,454.98) rotate(-60.0)" y="2.50" font-size="7.2" text-anchor="middle" textLength="9.31" lengthAdjust="spacingAndGlyphs">EN</text>
<text transform="translate(635.45,454.80) rotate(-60.0)" y="2.50" font-size="7.2" text-anchor="middle" textLength="8.89" lengthAdjust="spacingAndGlyphs">EZ</text>
<text transform="translate(645.26,458.44) rotate(-60.0)" y="2.50" font-size="7.2" text-anchor="middle" textLength="17.29" lengthAdjust="spacingAndGlyphs">PB08</text>
<text transform="translate(655.07,455.14) rotate(-60.0)" y="2.50" font-size="7.2" text-anchor="middle" textLength="9.67" lengthAdjust="spacingAndGlyphs">NZ</text>
<text transform="translate(664.87,454.98) rotate(-60.0)" y="2.50" font-size="7.2" text-anchor="middle" textLength="9.31" lengthAdjust="spacingAndGlyphs">EN</text>
<text transform="translate(674.68,454.80) rotate(-60.0)" y="2.50" font-size="7.2" text-anchor="middle" textLength="8.89" lengthAdjust="spacingAndGlyphs">EZ</text>
<text transform="translate(254.40,7.20) rotate(0.03)" font-size="10.3" textLength="223.60" lengthAdjust="spacingAndGlyphs">Approximate station distance to the shore (km)</text>
<text transform="translate(284.60,483.60) rotate(0.03)" font-size="10.3" textLength="162.60" lengthAdjust="spacingAndGlyphs">Station name and component pair</text>
<text transform="translate(12.30,93.20) rotate(-90)" font-size="9.8" text-anchor="middle" textLength="90.30" lengthAdjust="spacingAndGlyphs">Spectral amplitude</text>
<text transform="translate(21.90,93.50) rotate(-90)" font-size="9.8" text-anchor="middle" textLength="39.60" lengthAdjust="spacingAndGlyphs">dv/v (%)</text>
<text transform="translate(9.90,237.40) rotate(-90)" font-size="9.8" text-anchor="middle" textLength="90.30" lengthAdjust="spacingAndGlyphs">Spectral amplitude</text>
<text transform="translate(19.40,237.30) rotate(-90)" font-size="9.8" text-anchor="middle" textLength="76.00" lengthAdjust="spacingAndGlyphs">vol. strain (nstr)</text>
<text transform="translate(7.20,381.80) rotate(-90)" font-size="9.8" text-anchor="middle" textLength="79.40" lengthAdjust="spacingAndGlyphs">Phase shift (deg)</text>
</g>
</svg>
</body>
</html>
